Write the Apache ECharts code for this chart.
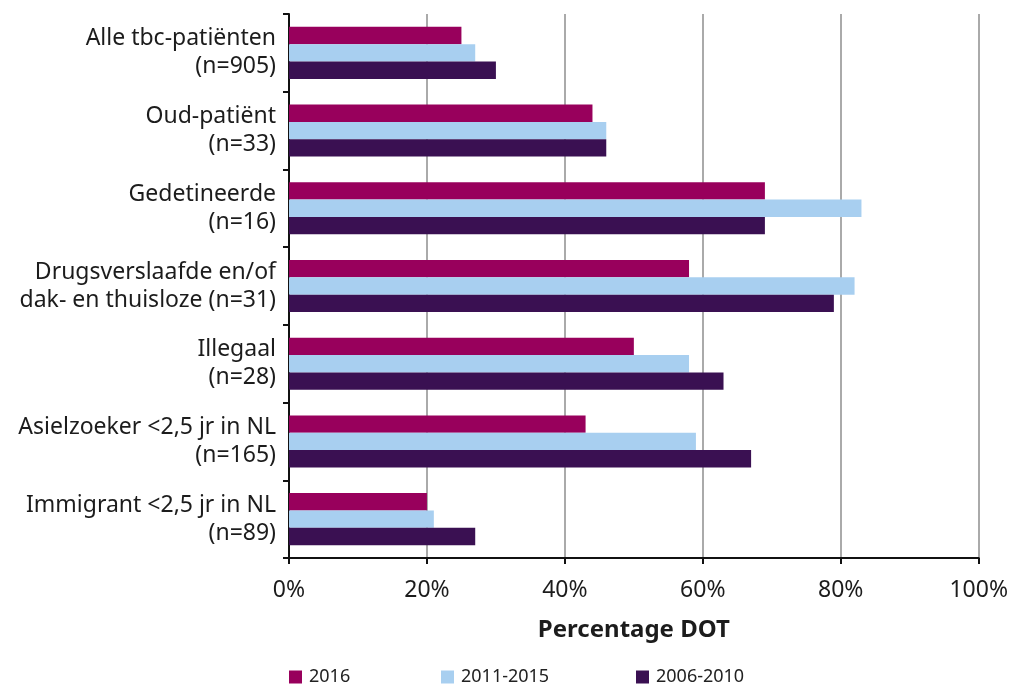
<!DOCTYPE html>
<html>
<head>
<meta charset="utf-8">
<title>Percentage DOT per risicogroep</title>
<script src="https://cdn.jsdelivr.net/npm/echarts@6/dist/echarts.min.js"></script>
<style>
  html, body { margin: 0; padding: 0; background: #fff; }
  #chart { width: 1011px; height: 686px; }
</style>
</head>
<body>
<div id="chart"></div>
<script>
// Risk groups, listed top to bottom
const categories = [
  'Alle tbc-patiënten\n(n=905)',
  'Oud-patiënt\n(n=33)',
  'Gedetineerde\n(n=16)',
  'Drugsverslaafde en/of\ndak- en thuisloze (n=31)',
  'Illegaal\n(n=28)',
  'Asielzoeker <2,5 jr in NL\n(n=165)',
  'Immigrant <2,5 jr in NL\n(n=89)'
];

// Percentage DOT per period
const seriesNames = ['2016', '2011-2015', '2006-2010'];
const values2016 = [25, 44, 69, 58, 50, 43, 20];
const values2011_2015 = [27, 46, 83, 82, 58, 59, 21];
const values2006_2010 = [30, 46, 69, 79, 63, 67, 27];

const xTicks = [0, 20, 40, 60, 80, 100];

const colors = ['#98005c', '#a8cff0', '#3a1052'];
const fontFamily = '"Noto Sans", "Open Sans", sans-serif';

const chart = echarts.init(document.getElementById('chart'), null, { renderer: 'canvas' });

const seriesData = [values2016, values2011_2015, values2006_2010];

// one legend block per period so each entry sits at its own x position
const legendLefts = [289, 441, 636];

chart.setOption({
  animation: false,
  textStyle: { fontFamily: fontFamily },
  grid: { left: 289, right: 30, top: 14, bottom: 128, containLabel: false },
  legend: seriesNames.map((name, i) => ({
    data: [name],
    left: legendLefts[i],
    bottom: 0,
    padding: 0,
    itemWidth: 13,
    itemHeight: 13,
    itemGap: 9,
    icon: 'rect',
    textStyle: { fontSize: 18, color: '#222', fontFamily: fontFamily, padding: [0, 0, 0, 2] },
    selectedMode: false
  })),
  xAxis: {
    type: 'value',
    min: xTicks[0],
    max: xTicks[xTicks.length - 1],
    interval: xTicks[1] - xTicks[0],
    name: 'Percentage DOT',
    nameLocation: 'middle',
    nameGap: 60,
    nameTextStyle: { fontSize: 24, fontWeight: 'bold', color: '#1c1c1c', fontFamily: fontFamily },
    axisLine: { show: true, lineStyle: { color: '#111', width: 2 } },
    axisTick: { show: true, length: 6, lineStyle: { color: '#111', width: 2 } },
    axisLabel: {
      formatter: '{value}%',
      fontSize: 23,
      color: '#1c1c1c',
      margin: 21,
      fontFamily: fontFamily
    },
    splitLine: { show: true, lineStyle: { color: '#aaaaaa', width: 2 } }
  },
  yAxis: {
    type: 'category',
    inverse: true,
    data: categories,
    axisLine: { show: true, lineStyle: { color: '#111', width: 2 } },
    axisTick: { show: true, length: 6, alignWithLabel: false, lineStyle: { color: '#111', width: 2 } },
    axisLabel: {
      fontSize: 23,
      color: '#1c1c1c',
      margin: 13,
      lineHeight: 28,
      align: 'right',
      fontFamily: fontFamily
    },
    splitLine: { show: false }
  },
  series: seriesNames.map((name, i) => ({
    name: name,
    type: 'bar',
    data: seriesData[i],
    barGap: '0%',
    barCategoryGap: '33%',
    itemStyle: { color: colors[i] }
  }))
});
</script>
</body>
</html>
